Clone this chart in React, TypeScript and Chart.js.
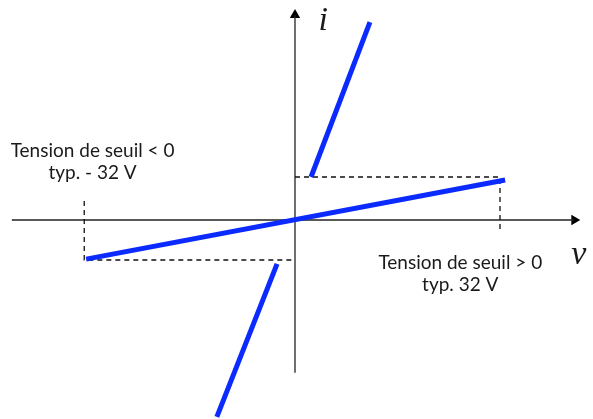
import React, { useEffect, useRef } from "react";
import { Chart, registerables } from "chart.js";

Chart.register(...registerables);

// Voltage (V) and current (arbitrary units) values
// main resistive line through origin (v, i)
const mainLineV = [-32.6, 32.8];
const mainLineI = [-0.91, 0.93];

// steep branches after breakdown
const upperBranchV = [2.5, 11.7];
const upperBranchI = [1.0, 4.6];
const lowerBranchV = [-2.8, -12.2];
const lowerBranchI = [-1.02, -4.58];

// dashed guides
const upperDashV = [0, 32, 32];
const upperDashI = [1.0, 1.0, -0.26];
const lowerDashV = [-32.9, -32.9, -0.3];
const lowerDashI = [0.44, -0.93, -0.93];

// axes
const vAxisV = [-44.2, 43.6];
const vAxisI = [0, 0];
const iAxisV = [0, 0];
const iAxisI = [-3.55, 4.77];

const leftLabel = ["Tension de seuil < 0", "typ. - 32 V"];
const rightLabel = ["Tension de seuil > 0", "typ. 32 V"];

const zip = (xs: number[], ys: number[]) => xs.map((x, k) => ({ x, y: ys[k] }));

const BLUE = "#0a2aff";

export default function App() {
  const ref = useRef<HTMLCanvasElement | null>(null);
  useEffect(() => {
    if (!ref.current) return;
    const textPlugin = {
      id: "labels",
      afterDatasetsDraw(chart: any) {
        const { ctx, scales } = chart;
        const xs = scales.x;
        const ys = scales.y;
        ctx.save();
        ctx.fillStyle = "#1a1a1a";
        ctx.textAlign = "center";
        ctx.textBaseline = "middle";
        ctx.font = "19px Lato, 'Open Sans', sans-serif";
        const drawLines = (lines: string[], v: number, i: number, dy: number) => {
          const px = xs.getPixelForValue(v);
          const py = ys.getPixelForValue(i);
          lines.forEach((t, k) => ctx.fillText(t, px, py + k * dy));
        };
        drawLines(leftLabel, -31.6, 1.6, 22);
        drawLines(rightLabel, 25.8, -1.0, 22);
        ctx.font = "italic 34px 'Liberation Serif', 'DejaVu Serif', serif";
        ctx.fillText("i", xs.getPixelForValue(4.4), ys.getPixelForValue(4.63));
        ctx.fillText("v", xs.getPixelForValue(44.3), ys.getPixelForValue(-0.82));
        ctx.restore();
      },
    };
    const chart = new Chart(ref.current, {
      type: "scatter",
      data: {
        datasets: [
          { data: zip(mainLineV, mainLineI), borderColor: BLUE, borderWidth: 5, order: 0 },
          { data: zip(upperBranchV, upperBranchI), borderColor: BLUE, borderWidth: 5, order: 0 },
          { data: zip(lowerBranchV, lowerBranchI), borderColor: BLUE, borderWidth: 5, order: 0 },
          { data: zip(upperDashV, upperDashI), borderColor: "#111", borderWidth: 1.3, borderDash: [5, 4], order: 1 },
          { data: zip(lowerDashV, lowerDashI), borderColor: "#111", borderWidth: 1.3, borderDash: [5, 4], order: 1 },
          { data: zip(vAxisV, vAxisI), borderColor: "#222", borderWidth: 1.3, order: 2 },
          { data: zip(iAxisV, iAxisI), borderColor: "#222", borderWidth: 1.3, order: 2 },
          {
            data: [{ x: vAxisV[1], y: 0 }],
            showLine: false,
            pointRadius: 6,
            pointStyle: "triangle",
            rotation: 90,
            backgroundColor: "#000",
            borderWidth: 0,
            order: 2,
          } as any,
          {
            data: [{ x: 0, y: iAxisI[1] }],
            showLine: false,
            pointRadius: 6,
            pointStyle: "triangle",
            rotation: 0,
            backgroundColor: "#000",
            borderWidth: 0,
            order: 2,
          } as any,
        ].map((d: any) => ({
          showLine: true,
          pointRadius: 0,
          borderCapStyle: "butt",
          fill: false,
          clip: false,
          ...d,
        })),
      },
      options: {
        responsive: false,
        animation: false,
        maintainAspectRatio: false,
        layout: { padding: 0, autoPadding: false },
        plugins: { legend: { display: false }, tooltip: { enabled: false } },
        scales: {
          x: { type: "linear", display: false, min: -46.05, max: 46.52 },
          y: { type: "linear", display: false, min: -4.628, max: 5.116 },
        },
      },
      plugins: [textPlugin],
    } as any);
    return () => chart.destroy();
  }, []);
  return (
    <div style={{ position: "absolute", left: 0, top: 0, width: 593, height: 419, background: "#fff" }}>
      <canvas ref={ref} width={593} height={419} style={{ display: "block" }} />
    </div>
  );
}
